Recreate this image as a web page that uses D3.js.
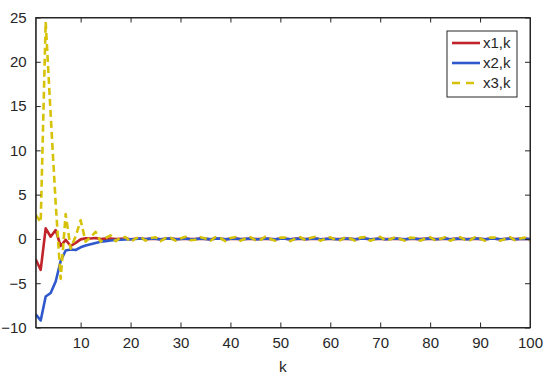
<!DOCTYPE html>
<html>
<head>
<meta charset="utf-8">
<script src="https://cdn.jsdelivr.net/npm/d3@7"></script>
<style>
  body { margin: 0; background: #fff; }
  text { font-family: "Liberation Sans", Arial, sans-serif; fill: #262626; }
</style>
</head>
<body>
<div id="chart"></div>
<script>
// series values, k = 1..100
const x1k = [
  -2.3, -3.5, 1.2, 0.25, 1.0, -0.8, -0.1, -0.8, -0.45, -0.05,
  0.08, 0.05, 0.1, -0.02, 0.03, 0.05, -0.02, 0.02, 0.04, -0.03,
  0.02, 0.04, -0.02, 0.01, 0.03, -0.03, 0.02, 0.03, -0.02, 0.0,
  0.03, -0.02, -0.01, 0.03, 0.01, -0.03, 0.02, 0.02, -0.03, 0.01,
  0.03, -0.02, 0.0, 0.03, -0.02, -0.01, 0.03, 0.0, -0.03, 0.02,
  0.02, -0.03, 0.01, 0.03, -0.02, 0.01, 0.03, -0.03, 0.0, 0.02,
  -0.01, -0.02, 0.03, 0.01, -0.03, 0.02, 0.02, -0.03, 0.0, 0.03,
  -0.02, -0.01, 0.03, 0.0, -0.03, 0.02, 0.01, -0.02, 0.01, 0.03,
  -0.02, 0.0, 0.03, -0.03, 0.01, 0.02, -0.01, -0.02, 0.03, 0.01,
  -0.03, 0.02, 0.02, -0.03, 0.0, 0.03, -0.02, 0.01, 0.02, -0.02
];
const x2k = [
  -8.5, -9.2, -6.5, -6.1, -4.8, -2.5, -1.3, -1.2, -1.25, -0.95,
  -0.75, -0.6, -0.45, -0.32, -0.25, -0.18, -0.13, -0.09, -0.06, -0.03,
  0.0, 0.05, -0.03, 0.04, 0.03, -0.05, 0.03, 0.05, -0.03, 0.0,
  0.05, -0.03, -0.02, 0.05, 0.01, -0.05, 0.04, 0.03, -0.05, 0.02,
  0.04, -0.04, 0.01, 0.05, -0.03, -0.02, 0.05, 0.0, -0.04, 0.03,
  0.03, -0.05, 0.01, 0.04, -0.03, 0.02, 0.05, -0.04, 0.0, 0.04,
  -0.02, -0.03, 0.04, 0.01, -0.04, 0.03, 0.04, -0.04, 0.0, 0.05,
  -0.03, -0.01, 0.04, 0.0, -0.04, 0.03, 0.02, -0.04, 0.01, 0.04,
  -0.03, 0.0, 0.04, -0.04, 0.01, 0.04, -0.02, -0.03, 0.04, 0.01,
  -0.04, 0.03, 0.03, -0.04, 0.0, 0.04, -0.03, 0.01, 0.03, -0.04
];
const x3k = [
  2.7, 1.9, 24.5, 14.0, 4.0, -4.5, 2.8, -1.1, 0.3, 2.1,
  -0.3, 0.2, 0.8, -0.3, 0.1, 0.4, -0.25, 0.15, 0.2, -0.35,
  0.05, 0.25, -0.2, 0.1, 0.2, -0.25, 0.1, 0.15, -0.2, 0.05,
  0.25, -0.15, -0.1, 0.2, 0.05, -0.2, 0.2, 0.1, -0.25, 0.1,
  0.2, -0.2, 0.05, 0.2, -0.15, -0.1, 0.25, 0.0, -0.2, 0.15,
  0.15, -0.25, 0.05, 0.2, -0.15, 0.1, 0.25, -0.2, 0.0, 0.2,
  -0.1, -0.15, 0.2, 0.05, -0.2, 0.15, 0.2, -0.2, 0.0, 0.25,
  -0.15, -0.05, 0.2, 0.0, -0.2, 0.15, 0.1, -0.2, 0.05, 0.2,
  -0.15, 0.0, 0.2, -0.2, 0.05, 0.2, -0.1, -0.15, 0.2, 0.05,
  -0.2, 0.15, 0.15, -0.2, 0.0, 0.2, -0.15, 0.05, 0.15, -0.2
];
const xTicks = [10, 20, 30, 40, 50, 60, 70, 80, 90, 100];
const yTicks = [-10, -5, 0, 5, 10, 15, 20, 25];
const seriesNames = ["x1,k", "x2,k", "x3,k"];

const w = 550, h = 382;
const padL = 35.7, padR = 530, padT = 17.5, padB = 327.5;

const svg = d3.select("#chart").append("svg")
  .attr("width", w)
  .attr("height", h);

const xScale = d3.scaleLinear().domain([1, 100]).range([padL, padR]);
const yScale = d3.scaleLinear().domain([-10, 25]).range([padB, padT]);

svg.append("clipPath").attr("id", "clip")
  .append("rect")
  .attr("x", padL).attr("y", padT)
  .attr("width", padR - padL).attr("height", padB - padT);

const series = [
  { name: seriesNames[0], values: x1k, color: "#c0232a", dash: null },
  { name: seriesNames[1], values: x2k, color: "#2e58cc", dash: null },
  { name: seriesNames[2], values: x3k, color: "#d6c208", dash: "7,4" }
];

const line = d3.line()
  .x((d, i) => xScale(i + 1))
  .y(d => yScale(d));

const plot = svg.append("g").attr("clip-path", "url(#clip)");
series.forEach(s => {
  plot.append("path")
    .datum(s.values)
    .attr("fill", "none")
    .attr("stroke", s.color)
    .attr("stroke-width", 2.6)
    .attr("stroke-linejoin", "round")
    .attr("stroke-dasharray", s.dash)
    .attr("d", line);
});

// axes, MATLAB-style box with inward ticks
const tick = 5;
const axisBottom = d3.axisBottom(xScale).tickValues(xTicks).tickSizeInner(-tick).tickSizeOuter(0).tickPadding(10);
const axisTop = d3.axisTop(xScale).tickValues(xTicks).tickSizeInner(-tick).tickSizeOuter(0).tickFormat("");
const axisLeft = d3.axisLeft(yScale).tickValues(yTicks).tickSizeInner(-tick).tickSizeOuter(0).tickPadding(9);
const axisRight = d3.axisRight(yScale).tickValues(yTicks).tickSizeInner(-tick).tickSizeOuter(0).tickFormat("");

const gb = svg.append("g").attr("transform", `translate(0,${padB})`).call(axisBottom);
const gt = svg.append("g").attr("transform", `translate(0,${padT})`).call(axisTop);
const gl = svg.append("g").attr("transform", `translate(${padL},0)`).call(axisLeft);
const gr = svg.append("g").attr("transform", `translate(${padR},0)`).call(axisRight);

[gb, gt, gl, gr].forEach(g => {
  g.selectAll("path").attr("stroke", "#262626").attr("stroke-width", 1);
  g.selectAll("line").attr("stroke", "#262626").attr("stroke-width", 1);
  g.selectAll("text").style("font-size", "15px").attr("fill", "#262626");
});
// box lines full length
svg.append("rect")
  .attr("x", padL).attr("y", padT)
  .attr("width", padR - padL).attr("height", padB - padT)
  .attr("fill", "none").attr("stroke", "#262626").attr("stroke-width", 1);

svg.append("text")
  .attr("x", (padL + padR) / 2)
  .attr("y", 372)
  .attr("text-anchor", "middle")
  .style("font-size", "15.5px")
  .text("k");

// legend
const legend = svg.append("g").attr("transform", "translate(447,31)");
legend.append("rect")
  .attr("width", 70).attr("height", 66)
  .attr("fill", "#fff").attr("stroke", "#262626").attr("stroke-width", 1);
series.forEach((s, i) => {
  const y = 12 + i * 20;
  legend.append("line")
    .attr("x1", 5).attr("x2", 33)
    .attr("y1", y).attr("y2", y)
    .attr("stroke", s.color)
    .attr("stroke-width", 2.6)
    .attr("stroke-dasharray", s.dash ? "8,6" : null);
  legend.append("text")
    .attr("x", 36).attr("y", y + 5)
    .style("font-size", "15px")
    .text(s.name);
});
</script>
</body>
</html>
